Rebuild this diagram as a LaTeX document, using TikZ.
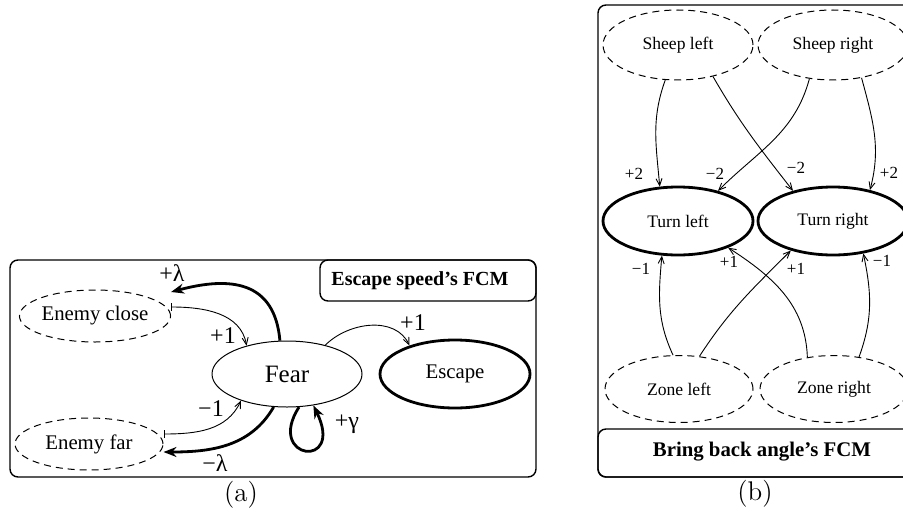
\documentclass[tikz,border=0pt]{standalone}
\usepackage{fontspec}
\usepackage{xcolor}
\usepackage{tikz}
\usetikzlibrary{shapes.geometric,arrows.meta}
\newfontfamily\tnr{Liberation Serif}

\tikzset{
  incon/.style={ellipse, draw, line width=0.5pt, dash pattern=on 3.5pt off 2.5pt, inner sep=0pt},
  midcon/.style={ellipse, draw, line width=0.5pt, inner sep=0pt},
  outcon/.style={ellipse, draw, line width=1.4pt, inner sep=0pt},
  weak/.style={line width=0.45pt, -{Straight Barb[length=3.5pt,width=3pt]}},
  sense/.style={line width=0.45pt, {Bar[width=4pt]}-{Straight Barb[length=3.5pt,width=3pt]}},
  strong/.style={line width=1.4pt, -{Stealth[length=6.5pt,width=5pt]}},
  wlab/.style={font=\tnr\fontsize{12}{14}\selectfont, inner sep=0pt},
  blab/.style={font=\tnr\fontsize{8.5}{10}\selectfont, inner sep=0pt},
  fcmbox/.style={draw, line width=0.7pt, rounded corners=4pt}
}

\begin{document}
\begin{tikzpicture}[x=0.5pt, y=-0.5pt]
                \useasboundingbox (0,0) rectangle (903,519);

                %% Escape speed's FCM
                \draw[fcmbox] (10,260) rectangle (536,477);
                \draw[fcmbox] (320,260) rectangle (536,301);
                \node[font=\tnr\bfseries\fontsize{10}{12}\selectfont] (titlea) at (420,281) {Escape speed’s FCM};

                \node[incon, minimum width=73pt, minimum height=26pt, font=\tnr\fontsize{10.4}{12}\selectfont] (close) at (95,316) {Enemy close};
                \node[incon, minimum width=74pt, minimum height=26pt, font=\tnr\fontsize{10.4}{12}\selectfont] (far) at (89,444) {Enemy far};
                \node[midcon, minimum width=75pt, minimum height=33pt, font=\tnr\fontsize{12.5}{14}\selectfont] (fear) at (287,374) {Fear};
                \node[outcon, minimum width=75pt, minimum height=34pt, font=\tnr\fontsize{10.4}{12}\selectfont] (escape) at (455,374) {Escape};

                %close
                \draw[sense] ([yshift=4.5pt]close.east) to[out=0,in=100] (fear.145);
                \draw[strong] (fear.102) to[out=95,in=15,looseness=1.3] ([yshift=12pt]close.east);
                \node[wlab] (plusc) at (223,336) {+1};
                \node[wlab] (lamc) at (172,273) {+λ};

                %far
                \draw[sense] ([yshift=5pt]far.east) to[out=0,in=245] (fear.210);
                \draw[strong] (fear.248) to[out=240,in=0] ([yshift=-4pt]far.east);
                \node[wlab] (minf) at (211,409) {−1};
                \node[wlab] (lamf) at (215,463) {−λ};

                %fear
                \draw[strong] (fear.290) .. controls (265,460) and (345,470) .. (fear.310);
                \node[wlab] (gam) at (347,424) {+γ};
                \draw[weak] (fear.37) to[out=45,in=115] (escape.148);
                \node[wlab] (plese) at (413,323) {+1};

                \node[font=\fontsize{13.5}{15}\selectfont] (capa) at (241,495) {(a)};

                %% Bring back angle's FCM
                \draw[fcmbox] (598,5) rectangle (915,477);
                \draw[fcmbox] (598,429) rectangle (915,477);
                \node[font=\tnr\bfseries\fontsize{10.4}{12}\selectfont] (titleb) at (762,452) {Bring back angle’s FCM};

                \node[incon, minimum width=75pt, minimum height=35pt, font=\tnr\fontsize{8.8}{10}\selectfont] (sl) at (678,45) {Sheep left};
                \node[incon, minimum width=75pt, minimum height=35pt, font=\tnr\fontsize{8.8}{10}\selectfont] (sr) at (833,45) {Sheep right};
                \node[outcon, minimum width=75pt, minimum height=34pt, font=\tnr\fontsize{8.8}{10}\selectfont] (tl) at (678,221) {Turn left};
                \node[outcon, minimum width=75pt, minimum height=34pt, font=\tnr\fontsize{8.8}{10}\selectfont] (tr) at (833,221) {Turn right};
                \node[incon, minimum width=74pt, minimum height=33.5pt, font=\tnr\fontsize{8.8}{10}\selectfont] (zl) at (679,389) {Zone left};
                \node[incon, minimum width=74pt, minimum height=33.5pt, font=\tnr\fontsize{8.8}{10}\selectfont] (zr) at (834,389) {Zone right};

                %sheep
                \draw[weak] (sl.250) to[out=250,in=95] (tl.118);
                \draw[weak] (sl.318) to[out=-60,in=128] (tr.143);
                \draw[weak] (sr.235) to[out=255,in=45] (tl.37);
                \draw[weak] (sr.311) to[out=285,in=75] (tr.40);
                \node[blab] (p2l) at (634,174) {+2};
                \node[blab] (m2l) at (715,174) {−2};
                \node[blab] (m2r) at (796,168) {−2};
                \node[blab] (p2r) at (889,173) {+2};

                %zone
                \draw[weak] (zl.100) to[out=115,in=265] (tl.245);
                \draw[weak] (zl.58) to[out=57,in=225] (tr.215);
                \draw[weak] (zr.130) to[out=92,in=-33] (tl.332);
                \draw[weak] (zr.52) to[out=70,in=282] (tr.313);
                \node[blab] (m1l) at (641,269) {−1};
                \node[blab] (p1l) at (729,262) {+1};
                \node[blab] (p1r) at (796,269) {+1};
                \node[blab] (m1r) at (882,261) {−1};

                \node[font=\fontsize{13.5}{15}\selectfont] (capb) at (755,494) {(b)};

            \end{tikzpicture}
\end{document}
